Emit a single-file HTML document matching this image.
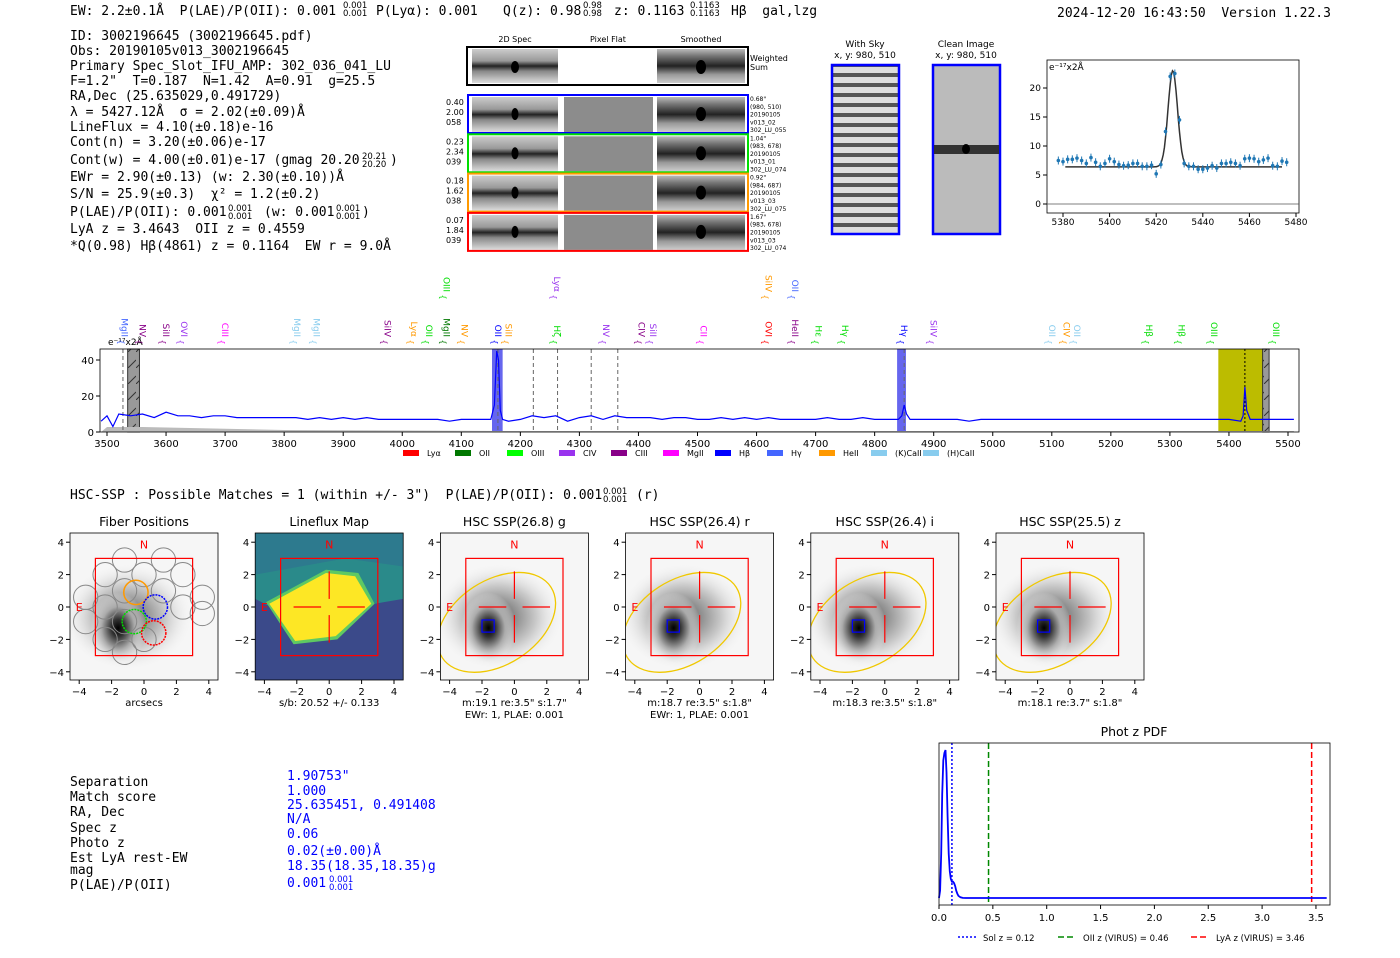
<!DOCTYPE html>
<html><head><meta charset="utf-8"><style>
body{margin:0;background:#fff}
svg text{font-family:"DejaVu Sans","Liberation Sans",sans-serif}
.m{font-family:"DejaVu Sans Mono","Liberation Mono",monospace;font-size:13px;fill:#000;white-space:pre}
</style></head><body>
<svg id="root" width="1400" height="953" viewBox="0 0 1400 953" xmlns="http://www.w3.org/2000/svg" xml:space="preserve">
<defs>
<radialGradient id="blob" cx="0.5" cy="0.5" r="0.5">
<stop offset="0" stop-color="#000"/><stop offset="0.25" stop-color="#333"/><stop offset="0.6" stop-color="#aaa"/><stop offset="1" stop-color="#f4f4f4" stop-opacity="0"/></radialGradient>
<linearGradient id="band" x1="0" y1="0" x2="0" y2="1">
<stop offset="0" stop-color="#ccc"/><stop offset="0.35" stop-color="#999"/><stop offset="0.5" stop-color="#222"/><stop offset="0.65" stop-color="#888"/><stop offset="1" stop-color="#ddd"/></linearGradient>
<linearGradient id="band2" x1="0" y1="0" x2="0" y2="1">
<stop offset="0" stop-color="#bbb"/><stop offset="0.2" stop-color="#777"/><stop offset="0.5" stop-color="#222"/><stop offset="0.75" stop-color="#999"/><stop offset="1" stop-color="#ccc"/></linearGradient>
<pattern id="stripes" width="70" height="10" patternUnits="userSpaceOnUse"><rect width="70" height="10" fill="#ddd"/><rect y="3" width="70" height="4" fill="#555"/></pattern>
<pattern id="hatch" width="8" height="16" patternUnits="userSpaceOnUse"><rect width="8" height="16" fill="#999"/><line x1="0" y1="16" x2="8" y2="8" stroke="#333" stroke-width="1"/></pattern>
</defs>

<g>
<text class="m" x="70" y="15">EW: 2.2±0.1Å  P(LAE)/P(OII): 0.001</text>
<text class="m" x="376" y="15">P(Lyα): 0.001</text>
<text class="m" x="503" y="15">Q(z): 0.98</text>
<text class="m" x="614" y="15">z: 0.1163</text>
<text class="m" x="731" y="15">Hβ  gal,lzg</text>
<text class="m" x="1057" y="17">2024-12-20 16:43:50  Version 1.22.3</text>
</g>

<g>
<text class="m" x="70" y="40">ID: 3002196645 (3002196645.pdf)</text>
<text class="m" x="70" y="55">Obs: 20190105v013_3002196645</text>
<text class="m" x="70" y="70">Primary Spec_Slot_IFU_AMP: 302_036_041_LU</text>
<text class="m" x="70" y="85">F=1.2"  T=0.187  N=1.42  A=0.91  g=25.5</text>
<text class="m" x="70" y="100">RA,Dec (25.635029,0.491729)</text>
<text class="m" x="70" y="116">λ = 5427.12Å  σ = 2.02(±0.09)Å</text>
<text class="m" x="70" y="131">LineFlux = 4.10(±0.18)e-16</text>
<text class="m" x="70" y="146">Cont(n) = 3.20(±0.06)e-17</text>
<text class="m" x="70" y="164">Cont(w) = 4.00(±0.01)e-17 (gmag 20.20</text>
<text class="m" x="390" y="164">)</text>
<text class="m" x="70" y="181">EWr = 2.90(±0.13) (w: 2.30(±0.10))Å</text>
<text class="m" x="70" y="198">S/N = 25.9(±0.3)  χ² = 1.2(±0.2)</text>
<text class="m" x="70" y="216">P(LAE)/P(OII): 0.001</text>
<text class="m" x="264" y="216">(w: 0.001</text>
<text class="m" x="362" y="216">)</text>
<text class="m" x="70" y="233">LyA z = 3.4643  OII z = 0.4559</text>
<text class="m" x="70" y="250">*Q(0.98) Hβ(4861) z = 0.1164  EW r = 9.0Å</text>
</g>

<g>
<text x="515" y="42" font-size="8" text-anchor="middle">2D Spec</text>
<text x="608" y="42" font-size="8" text-anchor="middle">Pixel Flat</text>
<text x="701" y="42" font-size="8" text-anchor="middle">Smoothed</text>
<rect x="467" y="47" width="281" height="38" fill="#fff" stroke="#000" stroke-width="2"/>
<rect x="472" y="49" width="86" height="34" fill="url(#band)"/>
<rect x="657" y="49" width="88" height="34" fill="url(#band2)"/>
<ellipse cx="515" cy="67" rx="4" ry="6"/><ellipse cx="701" cy="67" rx="5" ry="7"/>
<text x="750" y="61" font-size="8">Weighted</text><text x="750" y="70" font-size="8">Sum</text>
</g>
<g id="rows"></g>

<g id="sky">
<text x="865" y="47" font-size="9" text-anchor="middle">With Sky</text>
<text x="865" y="58" font-size="9" text-anchor="middle">x, y: 980, 510</text>
<text x="966" y="47" font-size="9" text-anchor="middle">Clean Image</text>
<text x="966" y="58" font-size="9" text-anchor="middle">x, y: 980, 510</text>
<rect x="832" y="65" width="67" height="169" fill="url(#stripes)" stroke="#00f" stroke-width="2.5"/>
<rect x="933" y="65" width="67" height="169" fill="#bbb" stroke="#00f" stroke-width="2.5"/>
<rect x="934" y="145" width="65" height="9" fill="#333"/>
<ellipse cx="966" cy="149" rx="4" ry="5"/>
</g>

<g id="fit"></g>
<g id="spec"></g>

<text class="m" x="70" y="499">HSC-SSP : Possible Matches = 1 (within +/- 3")  P(LAE)/P(OII): 0.001</text>
<text class="m" x="636" y="499">(r)</text>
<g id="panels"></g>

<g>
<text class="m" x="70" y="786">Separation</text><text class="m" x="70" y="801">Match score</text>
<text class="m" x="70" y="816">RA, Dec</text><text class="m" x="70" y="832">Spec z</text>
<text class="m" x="70" y="847">Photo z</text><text class="m" x="70" y="862">Est LyA rest-EW</text>
<text class="m" x="70" y="874">mag</text><text class="m" x="70" y="889">P(LAE)/P(OII)</text>
<text class="m" x="287" y="780" style="fill:#00f">1.90753"</text>
<text class="m" x="287" y="795" style="fill:#00f">1.000</text>
<text class="m" x="287" y="809" style="fill:#00f">25.635451, 0.491408</text>
<text class="m" x="287" y="823" style="fill:#00f">N/A</text>
<text class="m" x="287" y="838" style="fill:#00f">0.06</text>
<text class="m" x="287" y="855" style="fill:#00f">0.02(±0.00)Å</text>
<text class="m" x="287" y="870" style="fill:#00f">18.35(18.35,18.35)g</text>
<text class="m" x="287" y="887" style="fill:#00f">0.001</text>
</g>

<g id="pdf"></g>
</svg>
<script>
const NS="http://www.w3.org/2000/svg";
function mk(parent,tag,attrs,txt){const e=document.createElementNS(NS,tag);for(const k in attrs)e.setAttribute(k,attrs[k]);if(txt!==undefined)e.textContent=txt;parent.appendChild(e);return e;}
const root=document.getElementById('root');
const fracs=[[343,8,'0.001','0.001','#000'],[583,8,'0.98','0.98','#000'],[690,8,'0.1163','0.1163','#000'],[362,159,'20.21','20.20','#000'],[228,211,'0.001','0.001','#000'],[336,211,'0.001','0.001','#000'],[603,494,'0.001','0.001','#000'],[329,882,'0.001','0.001','#00f']];
fracs.forEach(f=>{
const t1=mk(root,'text',{x:f[0],y:f[1],'font-size':'8.5',fill:f[4]},f[2]);
const t2=mk(root,'text',{x:f[0],y:f[1]+8,'font-size':'8.5',fill:f[4]},f[3]);

});

const rowColors=['#0000ff','#00dd00','#ff9900','#ff0000'];
const rowLeft=[['0.40','2.00','058'],['0.23','2.34','039'],['0.18','1.62','038'],['0.07','1.84','039']];
const rowRight=[['0.68"','(980, 510)','20190105','v013_02','302_LU_055'],['1.04"','(983, 678)','20190105','v013_01','302_LU_074'],['0.92"','(984, 687)','20190105','v013_03','302_LU_075'],['1.67"','(983, 678)','20190105','v013_03','302_LU_074']];
const rows=document.getElementById('rows');
rowColors.forEach((c,i)=>{const y=95+i*39.3;
const g=mk(rows,'g',{});
mk(g,'rect',{x:472,y:y+2,width:86,height:35,fill:'url(#band)'});
mk(g,'rect',{x:564,y:y+2,width:89,height:35,fill:'#8c8c8c'});
mk(g,'rect',{x:657,y:y+2,width:88,height:35,fill:'url(#band2)'});
mk(g,'ellipse',{cx:515,cy:y+19,rx:3.5,ry:6});mk(g,'ellipse',{cx:701,cy:y+19,rx:5,ry:7});
mk(g,'rect',{x:468,y:y,width:280,height:38,fill:'none',stroke:c,'stroke-width':2});
rowLeft[i].forEach((t,j)=>mk(g,'text',{x:446,y:y+10+j*10,'font-size':'8'},t));
rowRight[i].forEach((t,j)=>mk(g,'text',{x:750,y:y+6+j*7.8,'font-size':'6'},t));});

const fitWave=[5378,5380,5382,5384,5386,5388,5390,5392,5394,5396,5398,5400,5402,5404,5406,5408,5410,5412,5414,5416,5418,5420,5422,5424,5426,5428,5430,5432,5434,5436,5438,5440,5442,5444,5446,5448,5450,5452,5454,5456,5458,5460,5462,5464,5466,5468,5470,5472,5474,5476];
const fitFlux=[7.5,7.3,7.7,7.7,7.9,7.5,7.0,8.0,7.2,6.5,7.0,7.8,7.3,6.8,6.6,6.7,7.0,7.0,6.5,6.5,6.7,5.2,6.8,12.5,22.0,22.5,14.5,7.0,6.5,6.5,6.0,6.0,6.2,6.6,6.2,7.0,7.0,7.2,7.0,6.6,7.8,7.9,7.8,7.3,7.6,7.9,6.6,6.5,7.4,7.2];
const fitModel={base:6.4,amp:16.6,mu:5427.12,sigma:2.02};
const fitXTicks=[5380,5400,5420,5440,5460,5480];
const fitYTicks=[0,5,10,15,20];
(function(){const g=document.getElementById('fit');
const X=w=>1063+(w-5380)*2.33, Y=v=>204-v*5.8;
mk(g,'rect',{x:1047,y:60,width:252,height:153,fill:'none',stroke:'#000','stroke-width':0.8});
mk(g,'line',{x1:1047,x2:1299,y1:Y(0),y2:Y(0),stroke:'#555','stroke-width':0.8});
fitXTicks.forEach(t=>{mk(g,'line',{x1:X(t),x2:X(t),y1:213,y2:217,stroke:'#000'});mk(g,'text',{x:X(t),y:225,'font-size':'9','text-anchor':'middle'},t);});
fitYTicks.forEach(t=>{mk(g,'line',{x1:1043,x2:1047,y1:Y(t),y2:Y(t),stroke:'#000'});mk(g,'text',{x:1041,y:Y(t)+3,'font-size':'9','text-anchor':'end'},t);});
mk(g,'text',{x:1049,y:70,'font-size':'9'},'e⁻¹⁷x2Å');
let d='';for(let w=5381;w<=5474;w+=0.5){const v=fitModel.base+fitModel.amp*Math.exp(-0.5*((w-fitModel.mu)/fitModel.sigma)**2);d+=(d?'L':'M')+X(w).toFixed(1)+','+Y(v).toFixed(1);}
const p=mk(g,'path',{d:d,fill:'none',stroke:'#333','stroke-width':1.5});
fitWave.forEach((w,i)=>{const pt=mk(g,'g',{});
mk(pt,'line',{x1:X(w),x2:X(w),y1:Y(fitFlux[i])-4,y2:Y(fitFlux[i])+4,stroke:'#1f77b4','stroke-width':1});
mk(pt,'circle',{cx:X(w),cy:Y(fitFlux[i]),r:1.8,fill:'#1f77b4'});});})();

const specWave=[3490,3500,3510,3520,3540,3560,3580,3600,3620,3640,3660,3680,3700,3720,3740,3760,3780,3800,3820,3840,3860,3880,3900,3920,3940,3960,3980,4000,4020,4040,4060,4080,4100,4120,4140,4150,4156,4160,4163,4166,4170,4180,4200,4220,4240,4260,4280,4300,4320,4340,4360,4380,4400,4420,4440,4460,4480,4500,4520,4540,4560,4580,4600,4620,4640,4660,4680,4700,4720,4740,4760,4780,4800,4820,4840,4846,4850,4854,4860,4880,4900,4920,4940,4960,4980,5000,5020,5040,5060,5080,5100,5120,5140,5160,5180,5200,5220,5240,5260,5280,5300,5320,5340,5360,5380,5400,5420,5424,5427,5430,5436,5450,5470,5490,5510];
const specFlux=[6,9,3,10,9,10,8,11,9,9,8,9,9,8,8,8,8,8,8,7,8,7,8,7,8,7,7,7,7,7,7,6,7,7,7,7,15,45,40,12,7,6,7,9,8,9,6,8,9,7,9,8,8,8,7,8,8,7,7,8,7,8,7,8,7,7,7,7,8,7,7,8,7,7,7,9,15,10,7,7,7,7,7,6,7,7,7,7,7,7,7,7,7,7,7,7,7,7,7,7,7,7,7,7,7,7,6,9,25,12,7,7,7,7,7];
const specXTicks=[3500,3600,3700,3800,3900,4000,4100,4200,4300,4400,4500,4600,4700,4800,4900,5000,5100,5200,5300,5400,5500];
const specYTicks=[0,20,40];
const dashedLines=[3527,4162,4222,4263,4320,4365,4850,5427];
const lineLabels=[['MgII',3530,'#4466ff',0],['NV',3560,'#880088',0],['SiII',3600,'#880088',0],['OVI',3630,'#9933ee',0],['CIII',3700,'#ff00ff',0],['MgII',3822,'#88ccee',0],['MgII',3855,'#88ccee',0],['SiIV',3975,'#880088',0],['Lyα',4020,'#ff9900',0],['OII',4045,'#00dd00',0],['MgII',4075,'#007700',0],['NV',4105,'#ff9900',0],['OIII',4075,'#00dd00',1],['OII',4162,'#0000ff',0],['SiII',4180,'#ff9900',0],['Hζ',4262,'#00dd00',0],['Lyα',4262,'#9933ee',1],['NV',4345,'#9933ee',0],['CIV',4405,'#880088',0],['SiII',4425,'#9933ee',0],['CII',4510,'#ff00ff',0],['OVI',4620,'#ff0000',0],['SiIV',4620,'#ff9900',1],['HeII',4665,'#880088',0],['OII',4665,'#4466ff',1],['Hε',4705,'#00dd00',0],['Hγ',4750,'#00dd00',0],['Hγ',4850,'#0000ff',0],['SiIV',4900,'#9933ee',0],['OII',5100,'#88ccee',0],['CIV',5125,'#ff9900',0],['OII',5143,'#88ccee',0],['Hβ',5265,'#00dd00',0],['Hβ',5320,'#00dd00',0],['OIII',5375,'#00dd00',0],['OIII',5480,'#00dd00',0]];
const legendNames=['Lyα','OII','OIII','CIV','CIII','MgII','Hβ','Hγ','HeII','(K)CaII','(H)CaII'];
const legendColors=['#ff0000','#007700','#00ff00','#9933ee','#880088','#ff00ff','#0000ff','#4466ff','#ff9900','#88ccee','#88ccee'];
(function(){const g=document.getElementById('spec');
const X=w=>107+(w-3500)*0.5905, Y=v=>432-v*1.8;
mk(g,'rect',{x:X(5382),y:349,width:X(5467)-X(5382),height:83,fill:'#bcbc00'});
mk(g,'rect',{x:X(4152),y:349,width:X(4170)-X(4152),height:83,fill:'#6666ee'});
mk(g,'rect',{x:X(4838),y:349,width:X(4853)-X(4838),height:83,fill:'#6666ee'});
mk(g,'rect',{x:X(3535),y:349,width:X(3555)-X(3535),height:83,fill:'url(#hatch)',stroke:'#333'});
mk(g,'rect',{x:X(5457),y:349,width:X(5468)-X(5457),height:83,fill:'url(#hatch)',stroke:'#333'});
mk(g,'path',{d:'M'+X(3490)+',432 L'+X(3500)+',427 L'+X(3560)+',427 L'+X(3800)+',430 L'+X(4200)+',431 L'+X(5510)+',431 L'+X(5510)+',432Z',fill:'#bbb'});
dashedLines.forEach(w=>mk(g,'line',{x1:X(w),x2:X(w),y1:349,y2:432,stroke:w===5427?'#000':'#666','stroke-dasharray':w===5427?'2,2':'4,3','stroke-width':1}));
let d='';specWave.forEach((w,i)=>{if(i<specFlux.length)d+=(i?'L':'M')+X(w).toFixed(1)+','+Y(specFlux[i]).toFixed(1);});
const sl=mk(g,'path',{d:d,fill:'none',stroke:'#0000ff','stroke-width':1.2});
mk(g,'rect',{x:100,y:349,width:1199,height:83,fill:'none',stroke:'#000','stroke-width':0.8});
mk(g,'text',{x:108,y:345,'font-size':'9'},'e⁻¹⁷x2Å');
specXTicks.forEach(t=>{mk(g,'line',{x1:X(t),x2:X(t),y1:432,y2:436,stroke:'#000'});mk(g,'text',{x:X(t),y:447,'font-size':'10','text-anchor':'middle'},t);});
specYTicks.forEach(t=>{mk(g,'line',{x1:96,x2:100,y1:Y(t),y2:Y(t),stroke:'#000'});mk(g,'text',{x:94,y:Y(t)+4,'font-size':'10','text-anchor':'end'},t);});
lineLabels.forEach(l=>{const x=X(l[1]),yb=l[3]?300:345;
const t=mk(g,'text',{x:x-3,y:yb-8,'font-size':'9',fill:l[2],transform:'rotate(90 '+(x-3)+' '+(yb-8)+')','text-anchor':'end'},l[0]);

mk(g,'text',{x:x-3,y:yb,'font-size':'8',fill:l[2],'text-anchor':'middle',transform:'rotate(90 '+(x-3)+' '+(yb-3)+')'},'{');});
legendNames.forEach((n,i)=>{const x=403+i*52;const e=mk(g,'g',{});
mk(e,'rect',{x:x,y:450,width:16,height:6,fill:legendColors[i]});mk(e,'text',{x:x+24,y:456,'font-size':'8'},n);});})();

const panelTitles=['Fiber Positions','Lineflux Map','HSC SSP(26.8) g','HSC SSP(26.4) r','HSC SSP(26.4) i','HSC SSP(25.5) z'];
const panelCap1=['arcsecs','s/b: 20.52 +/- 0.133','m:19.1  re:3.5"  s:1.7"','m:18.7  re:3.5"  s:1.8"','m:18.3  re:3.5"  s:1.8"','m:18.1  re:3.7"  s:1.8"'];
const panelCap2=['','','EWr: 1, PLAE: 0.001','EWr: 1, PLAE: 0.001','',''];
const panelTicks=[-4,-2,0,2,4];
const fiberCenters=[[-1.2,2.9],[1.2,2.9],[-2.4,2.0],[0,2.0],[2.4,2.0],[-1.2,1.0],[1.2,1.0],[-3.6,0.6],[3.6,0.6],[-2.4,0],[2.4,0],[3.6,-0.4],[-3.6,-0.9],[-1.2,-0.9],[-2.4,-2.0],[0,-2.0],[-1.2,-2.8]];
const pan=document.getElementById('panels');
panelTitles.forEach((title,i)=>{const ox=70+i*185.2;const g=mk(pan,'g',{});
const cx=ox+74,cy=607,s=16.2;const X=v=>cx+v*s,Y=v=>cy-v*s;
const cp='cp'+i;const c=mk(g,'clipPath',{id:cp});mk(c,'rect',{x:ox,y:533,width:148,height:147});
const inner=mk(g,'g',{'clip-path':'url(#'+cp+')'});
if(i===1){mk(inner,'rect',{x:ox,y:533,width:148,height:147,fill:'#3b4a8a'});
mk(inner,'path',{d:`M${ox},533 H${ox+148} V${Y(0.5)} L${X(2.8)},${Y(0.2)} L${X(-2.6)},${Y(-0.5)} L${ox},${Y(0.5)}Z`,fill:'#2a8a8a'});
mk(inner,'path',{d:`M${ox},533 H${ox+148} V${Y(2.5)} L${X(1)},${Y(3)} L${ox},${Y(2)}Z`,fill:'#2d7a8e'});
mk(inner,'path',{d:`M${X(-3.9)},${Y(0.3)} L${X(-1.5)},${Y(1.6)} L${X(-0.2)},${Y(2.3)} L${X(1.8)},${Y(2.1)} L${X(2.8)},${Y(0.2)} L${X(0.5)},${Y(-2.0)} L${X(-2.2)},${Y(-2.3)}Z`,fill:'#5ec962'});
mk(inner,'path',{d:`M${X(-3.7)},${Y(0.2)} L${X(-1.5)},${Y(1.4)} L${X(-0.2)},${Y(2.1)} L${X(1.6)},${Y(1.9)} L${X(2.6)},${Y(0.2)} L${X(0.4)},${Y(-1.8)} L${X(-2.1)},${Y(-2.1)}Z`,fill:'#fde725'});}
else{mk(inner,'rect',{x:ox,y:533,width:148,height:147,fill:'#f6f6f6'});
mk(inner,'ellipse',{cx:X(-1.0),cy:Y(-0.6),rx:4*s,ry:3.3*s,fill:'url(#blob)',opacity:0.55});
mk(inner,'ellipse',{cx:X(-1.6),cy:Y(-1.3),rx:1.7*s,ry:2.2*s,fill:'url(#blob)'});}
if(i===0){fiberCenters.forEach(f=>mk(inner,'circle',{cx:X(f[0]),cy:Y(f[1]),r:0.75*s,fill:'none',stroke:'#888','stroke-width':1}));
[[-0.5,0.9,'#ff9900'],[0.7,0,'#0000ff'],[-0.6,-0.9,'#00dd00'],[0.6,-1.6,'#ff0000']].forEach(f=>mk(inner,'circle',{cx:X(f[0]),cy:Y(f[1]),r:0.75*s,fill:'none',stroke:f[2],'stroke-width':1.5,'stroke-dasharray':f[2]==='#ff9900'?'':'2,1'}));}
if(i>=2){mk(inner,'ellipse',{cx:X(-1.1),cy:Y(-0.95),rx:4.0*s,ry:2.6*s,fill:'none',stroke:'#f0c800','stroke-width':1.3,transform:`rotate(-33 ${X(-1.1)} ${Y(-0.95)})`});
mk(inner,'rect',{x:X(-2.0),y:Y(-0.8),width:0.75*s,height:0.75*s,fill:'none',stroke:'#0000ff','stroke-width':1.2});}
mk(g,'rect',{x:X(-3),y:Y(3),width:6*s,height:6*s,fill:'none',stroke:'#ff0000','stroke-width':1.2});
if(i>=1){[[-2.2,-0.5],[0.5,2.2]].forEach(r=>{mk(g,'line',{x1:X(r[0]),x2:X(r[1]),y1:cy,y2:cy,stroke:'#ff0000','stroke-width':1.2});mk(g,'line',{y1:Y(r[0]),y2:Y(r[1]),x1:cx,x2:cx,stroke:'#ff0000','stroke-width':1.2});});}
mk(g,'text',{x:cx,y:Y(3.6),'font-size':'11',fill:'#ff0000','text-anchor':'middle'},'N');
mk(g,'text',{x:X(-4.0),y:cy+4,'font-size':'11',fill:'#ff0000','text-anchor':'middle'},'E');
mk(g,'rect',{x:ox,y:533,width:148,height:147,fill:'none',stroke:'#000','stroke-width':0.8});
panelTicks.forEach(t=>{mk(g,'line',{x1:X(t),x2:X(t),y1:680,y2:684,stroke:'#000'});mk(g,'text',{x:X(t),y:695,'font-size':'10','text-anchor':'middle'},t===0?'0':(t<0?'−'+(-t):t));
mk(g,'line',{x1:ox-4,x2:ox,y1:Y(t),y2:Y(t),stroke:'#000'});mk(g,'text',{x:ox-6,y:Y(t)+4,'font-size':'10','text-anchor':'end'},t===0?'0':(t<0?'−'+(-t):t));});
mk(g,'text',{x:cx,y:526,'font-size':'12.5','text-anchor':'middle'},title);
mk(g,'text',{x:cx,y:706,'font-size':'10','text-anchor':'middle'},panelCap1[i]);
if(panelCap2[i])mk(g,'text',{x:cx,y:718,'font-size':'10','text-anchor':'middle'},panelCap2[i]);});

const pdfZ=[0,0.01,0.02,0.03,0.04,0.05,0.06,0.07,0.08,0.09,0.10,0.11,0.12,0.13,0.14,0.15,0.16,0.17,0.18,0.20,0.22,0.25,0.5,1,2,3,3.6];
const pdfP=[0,0.05,0.3,0.7,0.93,0.98,1.0,0.85,0.55,0.3,0.18,0.13,0.11,0.11,0.1,0.08,0.05,0.03,0.015,0.005,0.001,0,0,0,0,0,0];
const zMarks=[[0.12,'#0000ff','2,2','Sol z = 0.12'],[0.46,'#008800','6,3','OII z (VIRUS) = 0.46'],[3.46,'#ff0000','6,3','LyA z (VIRUS) = 3.46']];
const pdfTicks=[0,0.5,1,1.5,2,2.5,3,3.5];
(function(){const g=document.getElementById('pdf');const X=z=>939+z*107.7,Y=p=>898-p*148;
mk(g,'text',{x:1134,y:736,'font-size':'12.5','text-anchor':'middle'},'Phot z PDF');
zMarks.forEach(m=>{const l=mk(g,'line',{x1:X(m[0]),x2:X(m[0]),y1:743,y2:905,stroke:m[1],'stroke-width':1.5,'stroke-dasharray':m[2]});});
let d='';pdfZ.forEach((z,i)=>d+=(i?'L':'M')+X(z).toFixed(1)+','+Y(pdfP[i]).toFixed(1));
const pl=mk(g,'path',{d:d,fill:'none',stroke:'#0000ff','stroke-width':1.8});
mk(g,'rect',{x:939,y:743,width:391,height:162,fill:'none',stroke:'#000','stroke-width':0.8});
pdfTicks.forEach(t=>{mk(g,'line',{x1:X(t),x2:X(t),y1:905,y2:909,stroke:'#000'});mk(g,'text',{x:X(t),y:921,'font-size':'10','text-anchor':'middle'},t.toFixed(1));});
zMarks.forEach((m,i)=>{const x=[958,1058,1191][i];const e=mk(g,'g',{});
mk(e,'line',{x1:x,x2:x+18,y1:937,y2:937,stroke:m[1],'stroke-width':1.5,'stroke-dasharray':m[2]});mk(e,'text',{x:x+25,y:941,'font-size':'8.5'},m[3]);});})();
</script>
</body></html>
